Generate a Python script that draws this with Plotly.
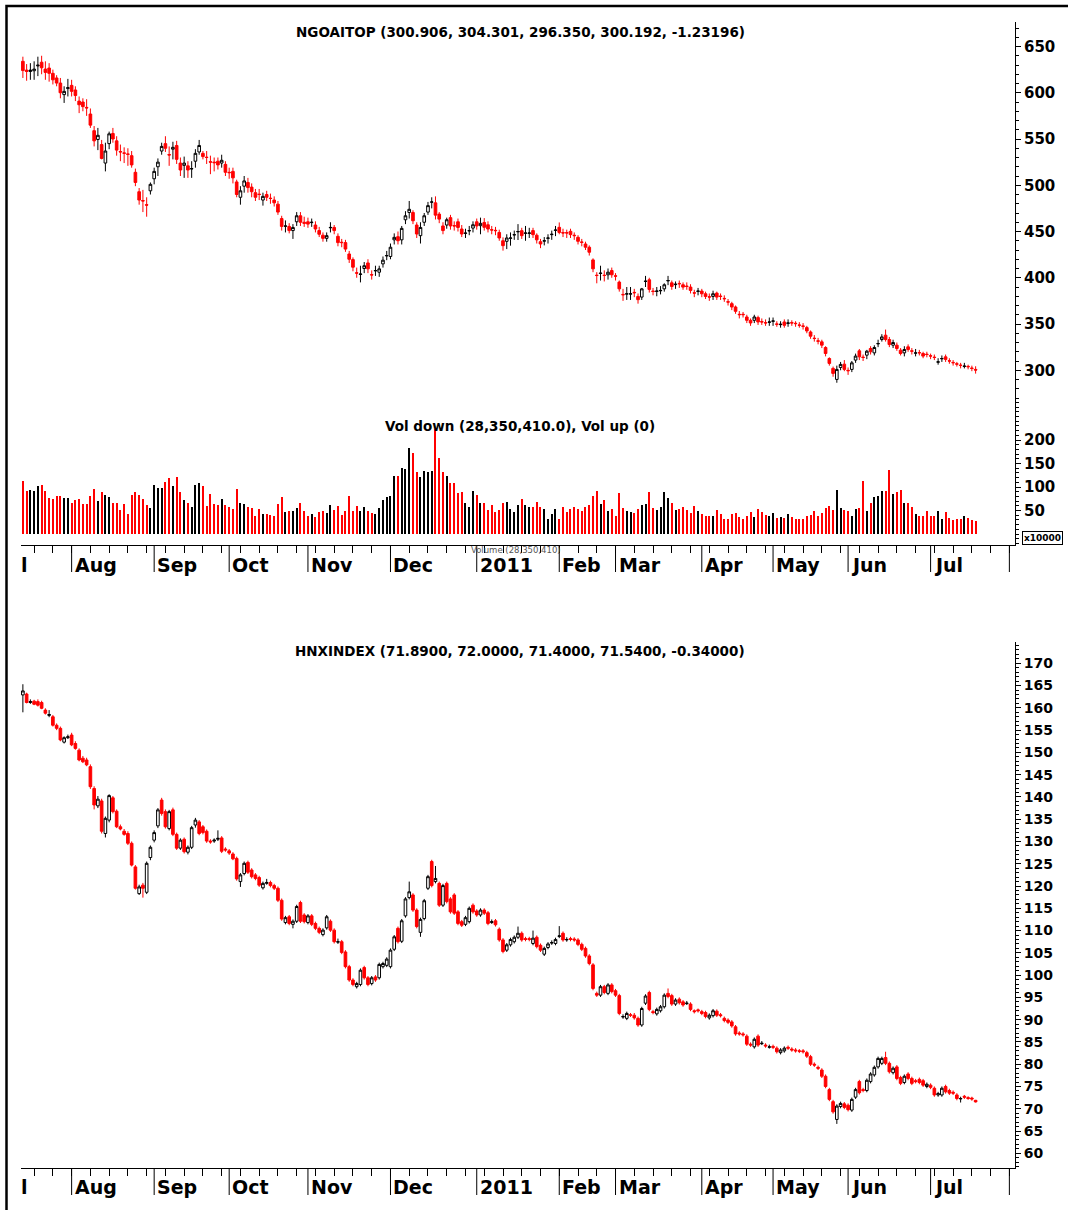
import plotly.graph_objects as go

# ---------------- data ----------------
month_labels = ["Aug", "Sep", "Oct", "Nov", "Dec", "2011", "Feb", "Mar", "Apr", "May", "Jun", "Jul", ""]
month_starts = [13, 35, 55, 76, 98, 121, 143, 158, 181, 200, 220, 242, 263]

ngo_open = [634, 624.5, 623, 623.8, 629, 633, 625.6, 626.7, 621, 616,
    610.5, 598, 604.5, 608, 603, 591, 590, 584.2, 577, 559,
    549.5, 544, 524, 545, 556, 548, 536.5, 535, 533.9, 532,
    514, 493, 483.5, 479, 494, 507, 520, 537, 545, 533.2,
    539, 543, 524, 521.5, 521, 517.6, 526, 536, 534.5, 530.4,
    525.5, 525, 526, 524, 522.6, 514, 515, 503.6, 487, 499,
    503, 498, 492, 490.4, 484, 490, 486, 484, 479.6, 464,
    455.6, 455.5, 451, 460.5, 467, 460, 460.5, 459.6, 457, 451,
    446, 442.6, 454, 454.4, 444.8, 438.4, 438, 425.7, 419.6, 405.4,
    403.6, 410, 416, 403.4, 407.4, 406, 415, 423.6, 423, 441,
    444.4, 441, 462.7, 470.6, 470.6, 457, 445.5, 460, 471, 481.6,
    481, 468.8, 456, 457, 465, 456.4, 460.5, 452.7, 448, 450.6,
    453.7, 460.5, 456.3, 459.8, 457.3, 452, 451.3, 449, 440, 439.4,
    442.6, 446.2, 449.6, 450.9, 448, 448, 451, 446, 439, 439.6,
    442.6, 446.6, 451.2, 454.5, 448.8, 448.8, 450.2, 446, 443.7, 438.7,
    436.5, 433, 419.3, 402.8, 404.6, 402.8, 403.2, 407.8, 402.1, 395.3,
    382, 382.3, 382.3, 384.2, 379.8, 379.1, 396, 397.8, 385.6, 385.2,
    385.9, 388, 396.6, 394.5, 392.6, 393.9, 392.4, 391, 389.9, 383.8,
    385.2, 385.6, 382.7, 379.5, 379.8, 383.4, 380.2, 377.7, 374.1, 372,
    368.4, 360.5, 360.5, 357.6, 354, 354, 356.9, 352.6, 351.5, 351.8,
    352.9, 350.1, 349.3, 352.2, 350.7, 351.5, 350.8, 349, 347.9, 346.1,
    341.4, 334.7, 331.8, 330.7, 324.6, 312.7, 302, 290.1, 303, 306.6,
    299.9, 300.9, 311, 321, 314.2, 316.3, 323.5, 318.8, 328.5, 333.2,
    337.9, 333.2, 327.1, 327.1, 321.7, 318.8, 325.3, 321, 318.4, 319.2,
    318.1, 317.4, 315.7, 314.2, 308.7, 312.3, 314.5, 310.3, 308.5, 307,
    305.6, 304.1, 304.2, 302.4, 300.906]

ngo_high = [639, 631, 632, 634, 639, 640, 634, 632, 625, 619,
    616, 607, 615, 614, 607, 596, 594, 593, 583, 564,
    562, 549, 546, 558, 562, 553, 544, 541, 540, 537,
    518, 497, 495, 487, 503, 519, 529, 546, 553, 542,
    547, 548, 530, 531, 526, 526, 539, 549, 537, 537,
    532, 530, 530, 533, 526, 519, 519, 506, 499, 510,
    508, 502, 496, 496, 492, 494, 491, 488, 483, 467,
    462, 459, 458, 471, 471, 466, 465, 464, 461, 455,
    449, 449, 460, 457, 448, 442, 441, 429, 422, 411,
    413, 417, 420, 408, 413, 413, 423, 429, 437, 448,
    450, 456, 472, 483, 473, 460, 460, 470, 482, 487,
    488, 471, 460, 465, 468, 461, 464, 457, 453, 456,
    461, 464, 465, 464.5, 461, 456, 455, 452, 443.7, 447,
    449, 451, 458, 454, 456, 454, 454, 448, 442, 444,
    447, 451, 456, 459.8, 453, 452, 453, 449, 446, 442,
    439, 435, 421, 406, 413, 408, 410, 411, 405, 397,
    388, 390, 390, 388, 383, 389, 402, 400, 389, 390,
    391, 394, 402, 397, 396, 397, 395, 395, 393, 387,
    389, 388, 385, 383, 386, 385, 383, 381, 377, 374,
    370, 364, 363, 360, 356, 360, 359, 356, 355, 357,
    357, 353, 353, 355, 355, 354, 353, 352, 351, 348,
    343, 338, 335, 333, 326, 314, 304, 305, 309, 311,
    303, 310, 318, 323, 317, 322, 326, 327, 333, 339,
    344, 336, 333, 330, 324, 326, 328, 324, 323, 322,
    320, 320, 318, 317, 313, 316, 317, 313, 311, 309,
    308, 308, 306, 305, 304.301]

ngo_low = [616, 613, 614, 614, 618, 620, 614, 612, 609, 607,
    594, 589, 596, 596, 591, 578, 580, 575, 562, 542,
    538, 528, 515, 539, 546, 532, 526, 524, 521, 519,
    499, 479, 471, 466, 490, 501, 510, 533, 536, 521,
    528, 523, 510, 508, 508, 508, 519, 533, 528, 523,
    512, 515, 517, 519, 510, 507, 502, 487, 479, 492,
    492, 487, 483, 484, 478, 483, 480, 477, 468, 451,
    449, 448, 442, 456, 456, 455, 454, 455, 449, 444,
    439, 439, 449, 447, 434, 433, 428, 416, 407, 400,
    395, 405, 405, 398, 402, 401, 411, 419, 420, 436,
    436, 436, 458, 464, 458, 443, 437, 456, 468, 475,
    463, 459, 447, 453, 452, 451, 450, 444, 443, 446,
    449, 452, 447, 451, 449, 447, 446, 440, 429.3, 431,
    434.7, 441, 440.8, 442, 440, 443, 443, 437, 432, 435,
    437, 441, 445, 447, 444, 443, 443, 441, 436, 434,
    430, 424, 406, 394, 397, 396, 398, 400, 397, 385,
    375, 376, 376, 379, 372, 376, 390, 384, 381, 380,
    382, 385, 392, 387, 388, 389, 387, 387, 383, 379,
    381, 379, 377, 375, 376, 376, 376, 374, 370, 365,
    361, 356, 357, 351, 348, 351, 349, 349, 348, 348,
    348, 347, 346, 346, 347, 348, 347, 346, 344, 340,
    334, 331, 328, 324, 315, 305, 293, 286.5, 300, 299,
    295, 298, 308, 311, 310, 312, 317, 316, 325, 331,
    331, 325, 324, 321, 316, 315, 320, 317, 315, 316,
    313, 314, 312, 311, 306, 309, 309, 307, 305, 304,
    302, 302, 301, 299, 296.35]

ngo_close = [624, 623, 624.5, 625.6, 629.8, 627, 622, 621, 614, 610.5,
    600, 601.5, 605.5, 601.5, 597, 587, 585, 583.6, 565, 548,
    554, 529, 537, 555.6, 550, 538, 536, 534.6, 533.4, 522,
    503, 484, 483, 478.5, 501, 515, 525, 542, 540, 532.7,
    541, 528, 516.5, 524, 516.5, 518, 534.5, 543, 531, 530,
    525, 524.4, 522, 527, 514, 513.6, 508, 490, 494, 504.7,
    497.5, 493, 487, 490, 488, 487, 485.7, 481, 471, 455.5,
    456, 451, 454.4, 467, 460, 458.8, 458, 460, 452.7, 447,
    442.6, 445.5, 454.4, 451, 438, 438, 431, 420, 411.4, 405,
    404, 413, 409.6, 403, 407.8, 409.6, 419, 424, 433, 443.7,
    440, 453.4, 467, 474, 461.6, 447.3, 454.4, 467, 478, 482,
    467.7, 463.4, 451, 462.7, 456, 456, 454.4, 447.3, 448.3, 451,
    457.3, 456, 458.8, 454.5, 452.7, 451.6, 450.9, 443, 434.7, 443,
    443, 446.6, 450, 445.5, 448.4, 448.4, 446.6, 441, 436.5, 440,
    443, 447, 451.6, 449, 448.4, 448.4, 446.6, 445.5, 439.4, 438.3,
    433, 427.6, 409.6, 402.4, 405, 402.4, 406, 403.2, 401.7, 388,
    381.6, 382.7, 382.7, 383.8, 376.3, 388, 396.3, 387.4, 385.2, 385.6,
    386.3, 392.4, 397, 390.6, 393, 393.5, 389.9, 390.6, 386.3, 383.4,
    385.6, 382.7, 379.8, 379.1, 382.7, 379.1, 379.8, 377.3, 373.7, 368.4,
    363.7, 360.1, 360.1, 354, 351.1, 357.6, 352.2, 352.2, 351.1, 352.2,
    353.3, 349.7, 349.7, 348.6, 351.1, 351.1, 350.4, 348.6, 347.5, 342.5,
    336.8, 334.3, 331.4, 327.1, 318.1, 307.4, 296.6, 300.9, 306.3, 300.9,
    299.5, 308, 315.3, 314.5, 313.8, 320.6, 320, 324.6, 328.9, 336,
    333.2, 327.8, 330, 323.5, 318.1, 322.4, 322.4, 320.6, 318.8, 318.8,
    315.3, 317, 315.3, 313.8, 309.1, 312.7, 311.7, 309.9, 308.1, 306.6,
    305.2, 304.5, 303.8, 302, 300.192]

# volume, in units of the axis (x10000 label)
ngo_volume = [113.4, 92, 93.5, 92, 102, 103.4, 92, 77, 75, 80,
    80, 76, 76.5, 65, 73, 74.4, 63.7, 63.7, 80, 95,
    70, 89, 84, 78.6, 66.6, 65, 51, 63.7, 42.5, 83,
    89, 82, 75, 61, 55, 105, 98, 98, 110.5, 119,
    102, 122, 88.5, 72, 65, 56.6, 104, 109, 102, 59.5,
    86, 63.7, 62, 74.4, 62, 56.6, 54, 95, 66.6, 63.7,
    58, 55, 39, 52.5, 42.5, 43, 40.4, 38.3, 63.7, 78.6,
    46.8, 48, 50, 55, 66, 48.5, 38.3, 42.5, 35.5, 46.8,
    48, 45.4, 62, 51, 59.5, 39.6, 48, 80, 49.5, 59.5,
    49.5, 56.6, 48.5, 45.4, 43, 55, 72, 78, 81.5, 123.3,
    123.3, 139.6, 139, 182.2, 172.2, 132.5, 121.3, 134, 132.5, 135,
    222.6, 161, 131, 123.3, 107.7, 107.7, 87.2, 90, 66.6, 58,
    91.4, 83, 66.6, 66.6, 51, 61, 46.8, 51.8, 65, 68,
    52.5, 46.8, 62, 75, 61, 56.6, 58,
    68.7, 56.6, 53, 31.8, 42.5, 53, 31.8, 56.6, 46.8, 52.5,
    56.6, 53, 48, 56.6, 61, 80.7, 91.4, 63.7, 72, 49.5,
    52.5, 38.3, 87.2, 55, 48.5, 46, 44.7, 53, 62, 63.7,
    88.5, 55, 51, 56.6, 90, 76.5, 65, 51, 53, 58,
    52,
    44.7, 59.5, 48, 43, 38.3, 38.3, 38.3, 51, 42.5, 31.8,
    31.8, 42.5, 44, 36.8, 32.5, 38.3, 47.4, 36.8, 53, 46.8,
    40.4, 37.5, 44.7, 34.8, 36, 33.3, 41.8, 36.8, 31, 32.5,
    32.5, 37.5, 41, 48, 38.3, 44.7, 55, 59.5, 51.8, 94,
    55,
    51, 49.5, 38.3, 52.5, 54.4, 112, 48, 65, 78.6, 81.5,
    91.4, 90.8, 136.8, 86, 88.5, 94, 66.6, 65, 56.6, 42.5,
    38.3, 38.3, 48, 38.3, 38.3, 48, 31.8, 46, 34.8, 29.8,
    32.5, 31.8, 38.3, 34.8, 29.8, 28.35]

hnx_open = [162.9, 163.1, 161.2, 161.5, 161.4, 161.2, 159.5, 158.3, 158, 156.1,
    155.4, 152.3, 153.3, 153.9, 152, 150.5, 148.7, 148.3, 146.8, 141.9,
    138, 139.1, 131.8, 134.8, 139.8, 136.8, 133.3, 132.3, 131.8, 129.6,
    124.3, 118.3, 120.2, 118.6, 126.4, 130.3, 133.5, 139.3, 136.7, 132.9,
    137.1, 131.6, 128.5, 130.5, 127.6, 128.7, 133.7, 134.4, 133.3, 132.3,
    130.1, 130.1, 130.5, 130.8, 128.3, 127.9, 127.2, 126.2, 121, 122.8,
    125.3, 123.6, 122.5, 121.9, 119.6, 120.6, 120.8, 120.1, 119.5, 116.8,
    111.8, 113.1, 111.4, 112.1, 116.3, 113.5, 111.8, 113.3, 111.6, 110.5,
    109.1, 110.6, 112.1, 110.1, 107.4, 107.5, 105.2, 101.9, 98.9, 97.4,
    97.9, 101.7, 99.4, 98.1, 99.6, 99.4, 101.9, 102.2, 101.9, 105.8,
    110.5, 107.6, 113.3, 117.4, 118, 114.6, 109.6, 112.7, 119.5, 125.5,
    121, 120.6, 115.7, 120.6, 117.1, 118, 114.2, 112, 111.4, 112,
    115.7, 114.4, 113.5, 114.6, 114, 111.8, 112.2, 110.3, 107.9, 105.6,
    106.8, 107.5, 108.5, 109.4, 108.2, 108.2, 107.1, 108.5, 106.7, 104.7,
    106.2, 107.2, 107.1, 108.7, 109.4, 107.9, 108.2, 108.1, 107.9, 106.9,
    106, 104.3, 102.3, 95.9, 95.5, 97.4, 95.9, 97.8, 96.5, 95.4,
    90.6, 90.3, 91.1, 91, 90.3, 88.8, 93.7, 96.1, 91.8, 91.3,
    92, 92.9, 95.9, 95.4, 93.5, 94.6, 94, 93.6, 93.5, 92,
    92.2, 91.8, 91.6, 90.4, 90.9, 91.9, 91.1, 90.3, 89.9, 89.5,
    88.4, 87, 86.8, 86.3, 84.5, 83.9, 86.3, 84.6, 84.3, 83.8,
    84, 83.6, 82.6, 83, 83.8, 83.4, 83.2, 83, 83, 82.6,
    81.7, 80, 79.3, 78.7, 77.3, 74.3, 71.6, 67.6, 70.5, 71.1,
    70.8, 69.7, 72.6, 76.1, 74.3, 74.1, 76.1, 77.6, 79.4, 80.2,
    81.5, 80.2, 78.1, 79.4, 77, 75.9, 77.8, 76.8, 76.3, 76.6,
    76.3, 75, 75.3, 74.6, 73.1, 73.1, 75, 74.1, 73.7, 73.1,
    72.2, 72.8, 72.5, 72.4, 71.89]

hnx_high = [165.3, 163.4, 161.9, 161.8, 161.9, 161.6, 159.9, 159.5, 158.4, 156.5,
    155.8, 153.6, 154, 154.4, 152.5, 150.9, 149.2, 148.8, 147.3, 142.4,
    140.2, 139.6, 135.6, 140.6, 140.2, 137.2, 133.8, 132.8, 132.3, 130,
    124.7, 120.3, 120.7, 125.5, 129.1, 132.5, 137.5, 139.8, 137.2, 137.1,
    137.6, 132, 130.7, 130.9, 129.1, 133.5, 135.3, 134.8, 133.7, 132.7,
    130.5, 130.7, 132.5, 131.2, 128.7, 128.3, 127.6, 126.6, 122.9, 125.5,
    125.7, 124, 122.9, 122.3, 121, 121.6, 121.2, 120.5, 119.9, 117.2,
    113.3, 113.5, 112.5, 115.8, 116.7, 113.9, 113.7, 113.7, 112, 110.9,
    110.5, 113.5, 112.5, 110.5, 108.2, 107.9, 105.6, 102.3, 99.3, 98.5,
    101.5, 102.1, 99.8, 99.8, 100, 102.8, 103, 104, 106, 109,
    110.9, 112.6, 117.5, 121, 118.4, 115, 112.9, 117.1, 122.5, 125.9,
    124.5, 121, 120.5, 121, 117.5, 118.4, 114.6, 112.4, 113.3, 115.4,
    116.1, 114.8, 115, 115, 114.4, 112.5, 112.6, 110.7, 108.3, 107.2,
    108.4, 108.9, 110.9, 109.8, 108.6, 108.6, 110, 108.9, 107.1, 106.4,
    107.4, 107.8, 108.4, 111, 109.8, 108.5, 108.6, 108.5, 108.3, 107.3,
    106.4, 104.7, 102.7, 96.3, 97.8, 97.8, 98.2, 98.2, 96.9, 95.8,
    91.2, 91.8, 91.5, 91.5, 90.7, 92.9, 95.7, 96.5, 92.2, 92.7,
    93.3, 95.9, 97, 95.8, 94.8, 95, 94.4, 94.2, 93.9, 92.3,
    92.5, 92.2, 92, 91.4, 92.4, 92.3, 91.5, 90.7, 90.3, 89.9,
    88.8, 87.4, 87.2, 86.7, 84.9, 86, 86.7, 85.2, 84.7, 84.4,
    84.4, 84, 83.6, 84, 84.2, 83.8, 83.6, 83.4, 83.4, 83,
    82.1, 80.4, 79.7, 79.1, 77.7, 74.7, 72, 71, 71.6, 71.5,
    71.2, 72.5, 74.7, 76.5, 74.7, 76.8, 78.2, 79.7, 81.7, 81.7,
    82.8, 80.6, 79.5, 79.8, 77.4, 77.7, 78.2, 77.2, 76.7, 77,
    76.7, 75.9, 75.7, 75, 73.8, 75, 75.4, 74.5, 74.1, 73.5,
    72.7, 73.1, 72.8, 72.7, 72]

hnx_low = [159, 161, 160.9, 160.6, 160.3, 159.7, 158.5, 157.9, 155.8, 155,
    152.5, 152, 153, 151.4, 150.6, 148, 147.6, 146.9, 141.8, 137.2,
    137.5, 131.8, 130.9, 134.3, 136.3, 133, 132.5, 131.3, 129.2, 124.4,
    119.2, 118, 117.4, 118.2, 125.8, 129.8, 133, 135.8, 132.9, 132.5,
    131.2, 128.1, 128.1, 127.3, 127.1, 128.3, 133.1, 131.4, 131.6, 129.7,
    129.5, 129.7, 130.1, 127.4, 127.7, 127, 125.8, 121.2, 119.8, 122.4,
    122.7, 121.7, 121.3, 119.8, 119.2, 120.3, 119.7, 119.1, 116.4, 112.2,
    111.4, 111.2, 110.5, 111.7, 111.7, 111.6, 111.4, 111, 110.1, 109.2,
    108.7, 110.2, 109.7, 107.1, 107, 104.7, 101.5, 98.5, 97.5, 97,
    97.5, 99, 97.5, 97.7, 98.5, 99, 101.5, 101.8, 101.5, 105.4,
    107.1, 107.2, 112.9, 117, 114.2, 110.5, 108.6, 112.3, 119.1, 119.7,
    120.6, 115.3, 115.3, 116.1, 113.8, 113.5, 111.2, 110.8, 111, 111.6,
    113.8, 113.1, 113.1, 113.5, 111.2, 111.5, 110.9, 107.5, 104.9, 105.2,
    106.4, 107.1, 108.1, 107.5, 107.6, 107.6, 106.7, 106, 105.2, 104.3,
    105.8, 106.8, 106.7, 108.3, 107.5, 107.5, 107.6, 107.5, 106.5, 105.4,
    103.9, 102.2, 96.6, 95.1, 95.1, 95.7, 95.5, 95.9, 95.1, 91,
    90.2, 89.9, 90.6, 90, 88.4, 88.4, 93.3, 91.9, 91.2, 90.9,
    91.6, 92.5, 94.8, 93.1, 93.1, 93.4, 92.9, 93.3, 91.9, 91.4,
    91.6, 91, 90.3, 90, 90.5, 90.6, 90.5, 89.4, 89, 88.2,
    86.4, 86.4, 86.2, 84.1, 83.9, 83.5, 83.9, 84.3, 83.7, 83.5,
    83.4, 82.4, 82.2, 82.6, 83.2, 82.8, 82.6, 82.5, 82.4, 81.4,
    79.6, 79.4, 78.7, 76.9, 74.6, 71.7, 68.9, 66.6, 70.1, 69.9,
    69.4, 69.3, 72.2, 73.2, 73.7, 73.7, 75.7, 77.2, 79, 79.8,
    79.8, 77.9, 77.7, 76.4, 75.3, 75.5, 76.4, 75.3, 75.7, 75.5,
    74.9, 74.6, 74.4, 72.7, 72.7, 72.7, 73.4, 73.1, 73.1, 71.9,
    71.4, 72.2, 72, 71.8, 71.4]

hnx_close = [163.8, 161.2, 161.4, 160.8, 160.6, 159.9, 158.8, 158.5, 156.1, 155.4,
    152.8, 153.3, 153.5, 151.7, 150.9, 148.3, 147.9, 147.2, 142.3, 138.2,
    139.5, 132.3, 135.2, 140.3, 136.7, 133.3, 132.8, 131.6, 129.6, 124.7,
    119.5, 119.8, 119.5, 125.1, 128.7, 132, 137.1, 136.3, 133.3, 136.7,
    131.6, 128.5, 130.3, 127.7, 128.7, 133.1, 134.8, 131.8, 132, 130.1,
    129.9, 130.3, 130.7, 127.8, 128.1, 127.4, 126.1, 121.6, 122.5, 125.1,
    123.1, 122.1, 121.7, 120.2, 120.6, 120.8, 120.1, 119.5, 116.8, 112.6,
    112.9, 111.6, 112.1, 115.4, 112.1, 112, 113.3, 111.4, 110.5, 109.6,
    110.1, 113.1, 110.1, 107.5, 107.5, 105.1, 101.9, 98.9, 97.9, 98.1,
    101.1, 99.4, 97.9, 99.4, 98.9, 102.4, 102.6, 103.6, 105.6, 108.6,
    107.5, 112.2, 117.1, 118.7, 114.6, 110.9, 112.5, 116.7, 122.1, 120.1,
    121.7, 115.7, 120.1, 116.5, 114.2, 113.9, 111.6, 111.2, 112.9, 115,
    114.2, 113.5, 114.6, 113.9, 111.6, 112, 111.3, 107.9, 105.3, 106.8,
    108, 108.5, 109.4, 107.9, 108, 108, 108.3, 106.4, 105.6, 106,
    107, 107.3, 108, 108.8, 107.9, 108, 108, 107.9, 106.9, 105.8,
    104.3, 102.6, 97, 95.5, 97.4, 96.1, 97.8, 96.3, 95.5, 91.4,
    90.7, 91.4, 91, 90.4, 88.8, 92.5, 95.3, 92.3, 91.6, 92.3,
    92.9, 95.5, 95.2, 93.5, 94.4, 93.8, 93.3, 93.7, 92.3, 91.8,
    92, 91.4, 90.7, 91, 92, 91, 90.9, 89.8, 89.4, 88.6,
    86.8, 86.8, 86.6, 84.5, 84.3, 85.6, 84.3, 84.7, 84.1, 83.9,
    83.8, 82.8, 83.2, 83.6, 83.6, 83.2, 83, 82.9, 82.8, 81.8,
    80, 79.8, 79.1, 77.3, 75, 72.1, 69.3, 70.6, 71.2, 70.3,
    69.8, 72.1, 74.3, 73.6, 74.1, 76.4, 77.8, 79.3, 81.3, 81.3,
    80.2, 78.3, 79.1, 76.8, 75.7, 77.3, 76.8, 75.7, 76.1, 75.9,
    75.3, 75.5, 74.8, 73.1, 73.4, 74.6, 73.8, 73.5, 73.5, 72.3,
    72.3, 72.6, 72.3, 72.2, 71.54]

ngo_title = "NGOAITOP (300.906, 304.301, 296.350, 300.192, -1.23196)"
vol_title = "Vol down (28,350,410.0), Vol up (0)"
vol_caption = "Volume (28,350,410)"
hnx_title = "HNXINDEX (71.8900, 72.0000, 71.4000, 71.5400, -0.34000)"
ngo_ticks = [300, 350, 400, 450, 500, 550, 600, 650]
vol_ticks = [50, 100, 150, 200]

# ---------------- layout helpers ----------------
W, H = 1068, 1210
PL, PR, PT, PB = 21, 1015, 22, 1168


def fx(px):
    return (px - PL) / (PR - PL)


def fy(py):
    return (PB - py) / (PB - PT)


days = list(range(len(ngo_close)))
FONT = "DejaVu Sans, Verdana, Arial, sans-serif"
RED = "#ff0000"

fig = go.Figure()
fig.add_trace(go.Candlestick(
    x=days, open=ngo_open, high=ngo_high, low=ngo_low, close=ngo_close,
    xaxis="x", yaxis="y", whiskerwidth=0,
    increasing=dict(line=dict(color="black", width=1), fillcolor="white"),
    decreasing=dict(line=dict(color=RED, width=1), fillcolor=RED),
    showlegend=False, hoverinfo="skip"))

vol_colors = [RED if c < o else "black" for o, c in zip(ngo_open, ngo_close)]
fig.add_trace(go.Bar(
    x=days, y=ngo_volume, xaxis="x", yaxis="y2", width=0.28,
    marker=dict(color=vol_colors, line=dict(width=0)),
    showlegend=False, hoverinfo="skip"))

fig.add_trace(go.Candlestick(
    x=days, open=hnx_open, high=hnx_high, low=hnx_low, close=hnx_close,
    xaxis="x2", yaxis="y3", whiskerwidth=0,
    increasing=dict(line=dict(color="black", width=1), fillcolor="white"),
    decreasing=dict(line=dict(color=RED, width=1), fillcolor=RED),
    showlegend=False, hoverinfo="skip"))

xcommon = dict(range=[-0.5, 264.5], showline=True, linecolor="black", linewidth=1,
               ticks="outside", ticklen=7, tickcolor="black", tick0=3, dtick=5,
               showticklabels=False, showgrid=False, zeroline=False,
               rangeslider=dict(visible=False), fixedrange=True)
ycommon = dict(side="right", showline=True, linecolor="black", linewidth=1,
               ticks="outside", ticklen=5, tickcolor="black", showgrid=False,
               zeroline=False, fixedrange=True)
minor10 = dict(dtick=10, tick0=0, ticks="outside", ticklen=3, tickcolor="black", showgrid=False)

fig.update_layout(
    width=W, height=H, paper_bgcolor="white", plot_bgcolor="white",
    margin=dict(l=PL, r=W - PR, t=PT, b=H - PB),
    showlegend=False, bargap=0, boxgap=0,
    xaxis=dict(domain=[0, 1], anchor="y2", **xcommon),
    xaxis2=dict(domain=[0, 1], anchor="y3", **xcommon),
    yaxis=dict(domain=[fy(398), 1], anchor="x", range=[270, 676.5],
               tickvals=ngo_ticks, minor=minor10,
               tickfont=dict(family=FONT, size=15, color="black", weight="bold"),
               **ycommon),
    yaxis2=dict(domain=[fy(545), fy(398)], anchor="x", range=[-23.4, 289.4],
                tickvals=vol_ticks, minor=minor10,
                tickfont=dict(family=FONT, size=15, color="black", weight="bold"),
                **ycommon),
    yaxis3=dict(domain=[0, fy(641.7)], anchor="x2", range=[56.7, 174.85],
                dtick=5, tick0=0,
                tickfont=dict(family=FONT, size=14, color="black", weight="bold"),
                minor=dict(dtick=1, tick0=0, ticks="outside", ticklen=3, tickcolor="black", showgrid=False),
                **ycommon),
)

shapes = []
annotations = []
for xa, y_axis_px, in [("x", 545), ("x2", 1168)]:
    for m, lab in zip(month_starts, month_labels):
        shapes.append(dict(type="line", xref=xa, yref="paper", x0=m, x1=m,
                           y0=fy(y_axis_px), y1=fy(y_axis_px + 27),
                           line=dict(color="black", width=1)))
        if lab:
            annotations.append(dict(x=m, xref=xa, y=fy(y_axis_px + 19.5), yref="paper",
                                    text="<b>%s</b>" % lab, showarrow=False,
                                    xanchor="left", yanchor="middle", xshift=1,
                                    font=dict(family=FONT, size=19, color="black")))
    annotations.append(dict(x=fx(19), xref="paper", y=fy(y_axis_px + 19.5), yref="paper",
                            text="<b>l</b>", showarrow=False, xanchor="left", yanchor="middle",
                            font=dict(family=FONT, size=19, color="black")))

for txt, py in [(ngo_title, 32.5), (vol_title, 425.5), (hnx_title, 650.5)]:
    annotations.append(dict(x=fx(520), xref="paper", y=fy(py), yref="paper",
                            text="<b>%s</b>" % txt, showarrow=False,
                            xanchor="center", yanchor="middle",
                            font=dict(family=FONT, size=13.5, color="black")))

annotations.append(dict(x=fx(516), xref="paper", y=fy(550), yref="paper",
                        text=vol_caption, showarrow=False, xanchor="center", yanchor="middle",
                        font=dict(family=FONT, size=8.5, color="#555555")))
annotations.append(dict(x=fx(1042), xref="paper", y=fy(537.5), yref="paper",
                        text="<b>x10000</b>", showarrow=False, xanchor="center", yanchor="middle",
                        bordercolor="black", borderwidth=1, borderpad=1, bgcolor="white",
                        font=dict(family=FONT, size=9, color="black")))

# outer frame (top and left edges visible)
shapes.append(dict(type="rect", xref="paper", yref="paper",
                   x0=fx(6.5), x1=fx(1090), y0=fy(1230), y1=fy(6),
                   line=dict(color="black", width=2.5), fillcolor="rgba(0,0,0,0)"))

fig.update_layout(shapes=shapes, annotations=annotations)
fig.write_html("out.html", config={"displayModeBar": False},
               post_script="document.body.style.margin='0px';document.body.style.padding='0px';")
